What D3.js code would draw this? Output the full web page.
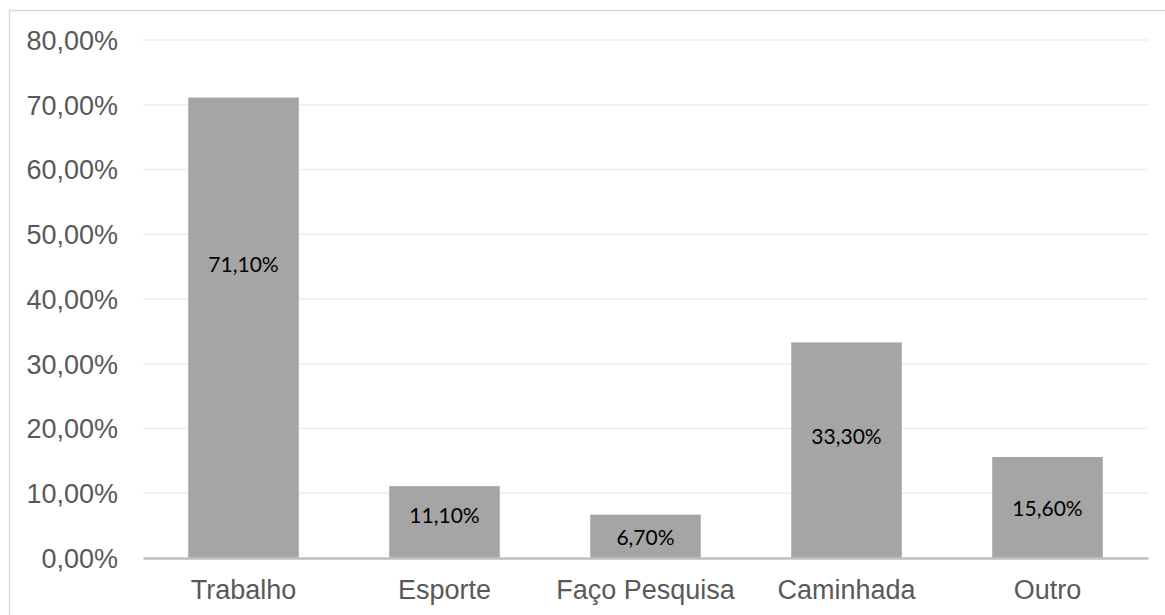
<!DOCTYPE html>
<html>
<head>
<meta charset="utf-8">
<script src="https://cdn.jsdelivr.net/npm/d3@7/dist/d3.min.js"></script>
<style>
  html, body { margin: 0; padding: 0; background: #fff; }
  svg { display: block; }
</style>
</head>
<body>
<svg id="chart" width="1165" height="615"></svg>
<script>
// Activity categories and share of respondents (%)
const categories = ["Trabalho", "Esporte", "Faço Pesquisa", "Caminhada", "Outro"];
const values = [71.1, 11.1, 6.7, 33.3, 15.6];
// Value-axis level (%) at which each data label sits inside its bar
const labelLevels = [45.3, 6.6, 3.1, 18.8, 7.6];
const yTicks = [0, 10, 20, 30, 40, 50, 60, 70, 80];

const fmt = v => v.toFixed(2).replace(".", ",") + "%";

const svg = d3.select("#chart");
const W = 1165, H = 615;

// chart area border (opens past the right and bottom edges)
svg.append("rect")
  .attr("x", 9.5).attr("y", 10.5)
  .attr("width", W + 20).attr("height", H + 20)
  .attr("fill", "none")
  .attr("stroke", "#d9d9d9")
  .attr("stroke-width", 1.5);

const plot = { left: 143, right: 1148, top: 40, bottom: 558 };

const x = d3.scaleBand()
  .domain(categories)
  .range([plot.left, plot.right])
  .paddingInner(0.45)
  .paddingOuter(0.225);

const y = d3.scaleLinear()
  .domain([0, 80])
  .range([plot.bottom, plot.top]);

// horizontal gridlines
svg.append("g")
  .selectAll("line")
  .data(yTicks.filter(t => t > 0))
  .join("line")
  .attr("x1", plot.left).attr("x2", plot.right)
  .attr("y1", d => y(d)).attr("y2", d => y(d))
  .attr("stroke", "#eeeeee")
  .attr("stroke-width", 1.5);

// value axis labels
const yAxis = d3.axisLeft(y)
  .tickValues(yTicks)
  .tickFormat(fmt)
  .tickSize(0)
  .tickPadding(25);

const yg = svg.append("g")
  .attr("transform", `translate(${plot.left},0)`)
  .call(yAxis);
yg.select(".domain").remove();
yg.selectAll("text")
  .attr("font-family", "'Liberation Sans', Arial, sans-serif")
  .attr("font-size", 27)
  .attr("fill", "#595959")
  .attr("dy", "0.35em");

// bars
svg.append("g")
  .selectAll("rect")
  .data(categories.map((c, i) => ({ c, v: values[i] })))
  .join("rect")
  .attr("x", d => x(d.c))
  .attr("width", x.bandwidth())
  .attr("y", d => y(d.v))
  .attr("height", d => y(0) - y(d.v))
  .attr("fill", "#a5a5a5");

// category axis
const xAxis = d3.axisBottom(x).tickSize(0).tickPadding(22);
const xg = svg.append("g")
  .attr("transform", `translate(0,${plot.bottom})`)
  .call(xAxis);
xg.select(".domain")
  .attr("stroke", "#bfbfbf")
  .attr("stroke-width", 2.5);
xg.selectAll("text")
  .attr("font-family", "'Liberation Sans', Arial, sans-serif")
  .attr("font-size", 27)
  .attr("fill", "#595959");

// data labels
svg.append("g")
  .selectAll("text")
  .data(categories.map((c, i) => ({ c, v: values[i], at: labelLevels[i] })))
  .join("text")
  .attr("x", d => x(d.c) + x.bandwidth() / 2)
  .attr("y", d => y(d.at))
  .attr("dy", "0.35em")
  .attr("text-anchor", "middle")
  .attr("font-family", "Lato, 'Open Sans', sans-serif")
  .attr("font-size", 21)
  .attr("fill", "#000")
  .text(d => fmt(d.v));
</script>
</body>
</html>
